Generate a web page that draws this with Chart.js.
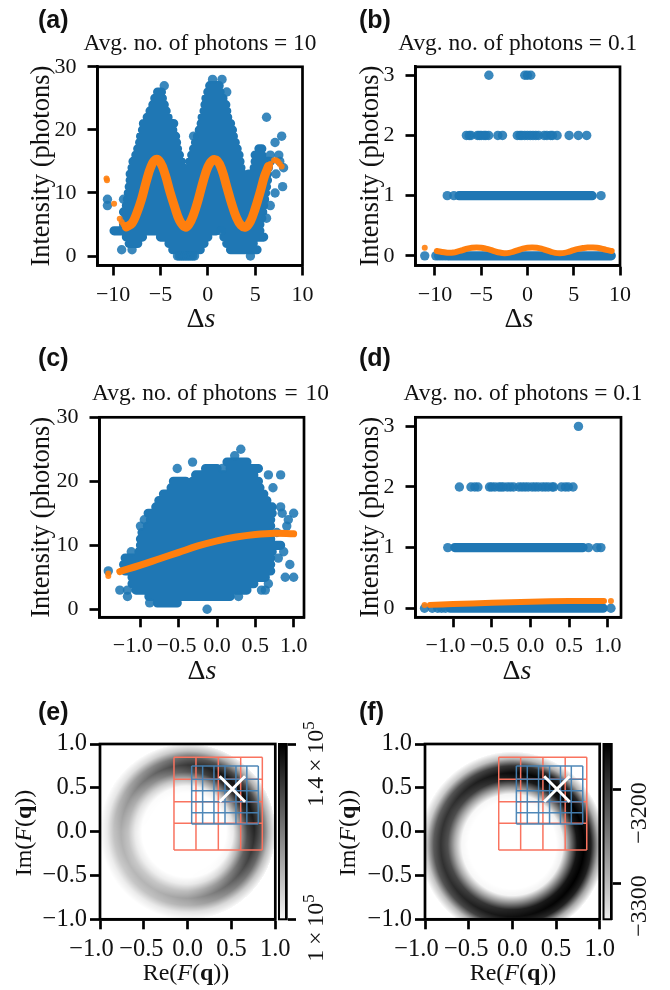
<!DOCTYPE html>
<html>
<head>
<meta charset="utf-8">
<style>
  html, body { margin: 0; padding: 0; background: #fff; overflow: hidden; }
  #page { position: relative; width: 670px; height: 990px; }
  canvas { position: absolute; }
</style>
<script src="https://cdn.jsdelivr.net/npm/chart.js@4"></script>
</head>
<body>
<div id="page"></div>
<script>
// --- panel (a) values, blue clouds are kept as x extents per photon level
var aLevels = [28, 27, 26, 25, 24, 23, 22, 21, 20, 19, 18, 17, 16, 15, 14, 13, 12, 11, 10, 9, 8, 7, 6, 5, 4, 3, 2, 1, 0];
var aSpans = [
  [[0.5], [1.5]],
  [[-4.6], [0.2, 1.2]],
  [[-5.3, -4.9], [0, 1.3], [2]],
  [[-5.6, -4.8], [-0.2, 1.6]],
  [[-5.8, -4.6], [-0.3, 1.9]],
  [[-6.1, -4.4], [-0.4, 2]],
  [[-6.4, -4.2], [-0.6, 2.1], [6.2]],
  [[-6.8, -3.6], [-0.7, 2.4]],
  [[-6.9, -3.7], [-0.9, 2.6]],
  [[-7.1, -3.4], [-1.5], [-1.1, 2.7], [7.8]],
  [[-7.2, -3.3], [-1.3, 2.9], [7.1]],
  [[-7.4, -3.2], [-1.5, 3.1], [5.4, 5.7]],
  [[-7.6, -3], [-1.7, 3.3], [5, 5.7], [6.6], [7.5]],
  [[-7.9, -2.8], [-1.9, 3.4], [5, 6.6], [7.6]],
  [[-8, -2.6], [-2, 3.5], [4.9, 6.4], [8]],
  [[-8.2, 3.7], [4.3, 6.3], [7.2]],
  [[-8.2, 6.3]],
  [[-8.3, 6.2], [7.9]],
  [[-8.4, 6.1], [7.1]],
  [[-8.9], [-8.5, 6], [-10.6]],
  [[-8.6, 5.9], [-10.6], [6.6]],
  [[-8.9, 5.8]],
  [[-8.7, 5.7], [6.2]],
  [[-8.9, 5.5]],
  [[-9.9, -9], [-8.3, 0.9], [1.4], [1.8, 5.5]],
  [[-8.6, -6.9], [-5, 0], [1.7, 5.9]],
  [[-8.3, -7.4], [-4.1, -0.4], [2, 4.8]],
  [[-9.1], [-8], [-3.7, -0.8], [2.4, 5.2]],
  [[-3.2], [-3], [-2.8], [-2.6], [-2.4], [-2.2], [-2], [-1.8], [-1.6], [-1.4], [4.5]]
];
var aOrangeX = [-8.6, -8, -7.5, -7, -6.5, -6, -5.5, -5, -4.5, -4, -3.5, -3, -2.4, -2, -1.5, -1, -0.5, 0, 0.5, 1, 1.5, 2, 2.5, 3, 3.5, 4, 4.5, 5, 5.5, 6, 6.4];
var aOrangeY = [4.6, 5.2, 6.8, 9, 11.8, 14.2, 15.3, 14.8, 12.9, 10.2, 7.8, 5.7, 4.6, 5, 6.6, 9, 11.8, 14.1, 15.2, 15.1, 13.6, 11, 8.4, 6.2, 4.9, 4.6, 5.5, 7.5, 10, 12.7, 14.2];
var aOrangeDotsX = [-10.7, -10.65, -9.9, -9.3, -9.1, -8.9, 6.6, 7, 7.2, 7.4, 7.6, 7.8];
var aOrangeDotsY = [12.3, 12, 8.3, 5.9, 5.4, 5, 14.6, 15.2, 15.2, 15, 14.6, 14.2];
var aXTicks = [-10, -5, 0, 5, 10];
var aXLabels = ['\u221210', '\u22125', '0', '5', '10'];
var aYTicks = [0, 10, 20, 30];

// --- panel (b) values
var bLevels = [3, 2, 1, 0];
var bSpans = [
  [[-4.17], [-0.29], [0], [0.36]],
  [[-6.6], [-6.3], [-6.1], [-5.4], [-5.2], [-5], [-4.7], [-4.5], [-4.2], [-3.2], [-2.7], [-1.1], [-0.8], [-0.6], [-0.3], [0], [0.3], [0.6], [0.9], [1.2], [1.8], [2.1], [2.5], [2.7], [3.2], [4.5], [5.5], [6.4]],
  [[-8.67], [-7.95], [-7.4, 7], [7.95]],
  [[-11.1], [-9.9], [-9.6], [-9.3], [-9], [-8.7], [-8.5, 9.06]]
];
var bOrangeX = [-9.8, -9, -8.5, -8, -7.5, -7, -6.5, -6, -5.5, -5, -4.5, -4, -3.5, -3, -2.5, -2, -1.5, -1, -0.5, 0, 0.5, 1, 1.5, 2, 2.5, 3, 3.5, 4, 4.5, 5, 5.5, 6, 6.5, 7, 7.5, 8, 8.5, 9.1];
var bOrangeY = [0.08, 0.06, 0.05, 0.055, 0.075, 0.095, 0.12, 0.135, 0.14, 0.135, 0.12, 0.1, 0.075, 0.055, 0.045, 0.05, 0.07, 0.095, 0.12, 0.135, 0.14, 0.135, 0.12, 0.095, 0.07, 0.05, 0.045, 0.05, 0.07, 0.095, 0.115, 0.13, 0.14, 0.14, 0.135, 0.12, 0.1, 0.08];
var bOrangeDotsX = [-11.1];
var bOrangeDotsY = [0.135];
var bYTicks = [0, 1, 2, 3];

// --- panel (c) values
var cLevels = [25, 24, 23, 22, 21, 20, 19, 18, 17, 16, 15, 14, 13, 12, 11, 10, 9, 8, 7, 6, 5, 4, 3, 2, 1, 0];
var cSpans = [
  [[0.31]],
  [[0.23]],
  [[-0.32], [0.13, 0.39]],
  [[-0.52], [-0.15, 0], [0.07], [0.17, 0.54]],
  [[-0.28, 0.48], [0.67], [0.83]],
  [[-0.57, -0.41], [-0.32, 0.54]],
  [[-0.6, 0.56], [0.73]],
  [[-0.7, 0.61]],
  [[-0.76, 0.65]],
  [[-0.8, 0.72], [0.83]],
  [[-0.9, 0.72], [0.85], [1]],
  [[-0.95], [-0.87, 0.7], [0.93]],
  [[-1], [-0.91, 0.7], [0.91]],
  [[-0.98, 0.67], [0.78]],
  [[-1, 0.7]],
  [[-1, 0.7], [0.72, 0.83]],
  [[-1.12], [-1.02, 0.72], [0.87]],
  [[-1.2, 0.7], [0.8]],
  [[-1.22, 0.7], [0.95]],
  [[-1.42], [-1.2, 0.7]],
  [[-1.11, 0.63], [0.89], [1]],
  [[-1.11, 0.48], [0.67]],
  [[-1.27], [-1.17], [-1.06, 0.39], [0.58], [0.63]],
  [[-1.17], [-0.89, 0.17], [0.28]],
  [[-0.88], [-0.78, -0.52]],
  [[-0.13]]
];
var cOrangeX = [-1.27, -1, -0.75, -0.5, -0.25, 0, 0.25, 0.5, 0.75, 1];
var cOrangeY = [5.9, 6.9, 7.9, 8.9, 9.9, 10.7, 11.3, 11.7, 11.9, 11.8];
var cOrangeDotsX = [-1.42, -1.42];
var cOrangeDotsY = [5.6, 5.2];
var cXTicks = [-1, -0.5, 0, 0.5, 1];
// trailing spaces nudge the negative labels left, as in the picture
var cXLabels = ['\u22121.0\u2002\u2009', '\u22120.5\u2009', '0.0', '0.5', '1.0'];

// --- panel (d) values
var dLevels = [3, 2, 1, 0];
var dSpans = [
  [[0.62]],
  [[-0.92], [-0.77], [-0.72], [-0.68], [-0.53], [-0.5], [-0.46], [-0.41], [-0.38], [-0.35], [-0.3], [-0.26], [-0.22], [-0.15], [-0.11], [-0.07], [-0.03], [0.02], [0.06], [0.1], [0.15], [0.19], [0.23], [0.28], [0.3], [0.4], [0.45], [0.49], [0.55]],
  [[-1.07], [-0.98, 0.68], [0.75], [0.86], [0.91]],
  [[-1.37], [-1.27], [-1.2], [-1.15], [-1.1], [-1.04, 0.94], [1.04]]
];
var dOrangeX = [-1.3, -1, -0.5, 0, 0.5, 0.95];
var dOrangeY = [0.055, 0.069, 0.089, 0.107, 0.117, 0.12];
var dOrangeDotsX = [-1.37, 1.04];
var dOrangeDotsY = [0.055, 0.12];

var ringAngles = [0, 30, 60, 90, 120, 150, 180, 210, 240, 270, 300, 330];
var eRadii = [0.44, 0.52, 0.6, 0.68, 0.76, 0.84, 0.92, 1.0];
var eDarkness = [
  [0, 8, 38, 72, 85, 66, 30, 5],
  [0, 12, 48, 85, 95, 72, 30, 4],
  [0, 8, 42, 82, 92, 70, 30, 4],
  [0, 4, 30, 65, 78, 62, 25, 3],
  [0, 2, 20, 46, 60, 46, 16, 1],
  [0, 1, 12, 32, 42, 32, 10, 1],
  [0, 0, 8, 24, 32, 24, 8, 0],
  [0, 0, 7, 21, 28, 21, 7, 0],
  [0, 0, 7, 22, 30, 24, 8, 0],
  [0, 0, 8, 26, 38, 30, 10, 1],
  [0, 1, 14, 40, 55, 44, 16, 2],
  [0, 4, 26, 58, 72, 58, 24, 3]
];
var fRadii = [0.5, 0.58, 0.66, 0.74, 0.82, 0.9, 0.98, 1.06];
var fDarkness = [
  [0, 6, 50, 92, 100, 88, 35, 2],
  [0, 6, 50, 92, 100, 85, 32, 2],
  [0, 6, 50, 92, 100, 85, 30, 2],
  [0, 5, 45, 88, 96, 80, 28, 2],
  [0, 3, 38, 78, 88, 72, 24, 1],
  [0, 3, 34, 70, 80, 64, 20, 1],
  [0, 3, 32, 68, 80, 64, 22, 1],
  [0, 3, 34, 72, 82, 68, 24, 1],
  [0, 3, 38, 78, 88, 74, 28, 2],
  [0, 4, 44, 86, 94, 80, 30, 2],
  [0, 5, 48, 90, 98, 86, 32, 2],
  [0, 6, 50, 92, 100, 88, 35, 2]
];
var ringTicks = [-1, -0.5, 0, 0.5, 1];
var ringXLabels = ['\u22121.0\u2002\u2009', '\u22120.5\u2009', '0.0', '0.5', '1.0'];
var ringYLabels = ['\u22121.0', '\u22120.5', '0.0', '0.5', '1.0'];
var redGridX = [-0.156, 0.095, 0.35, 0.605, 0.852];
var redGridY = [0.848, 0.597, 0.342, 0.095, -0.21];
var blueGridX = [0.046, 0.171, 0.3, 0.426, 0.551, 0.675, 0.806];
var blueGridY = [0.75, 0.597, 0.468, 0.342, 0.217, 0.087];
var markerX = [0.51];
var markerY = [0.487];
var eColorTicks = [100000, 140000];
var fColorTicks = [-3300, -3200];

var SERIF = '"Liberation Serif", "Times New Roman", serif';
var SANS = '"Liberation Sans", Arial, sans-serif';
var BLUE = '#1f77b4';
var ORANGE = '#ff7f0e';

function pairs(xs, ys) {
  return xs.map(function(x, i) { return { x: x, y: ys[i] }; });
}

// split the per-level extents into joined runs and lone points
function spanPoints(levels, spans) {
  var runs = [];
  var dots = [];
  levels.forEach(function(level, i) {
    spans[i].forEach(function(span) {
      if (span.length === 1) {
        dots.push({ x: span[0], y: level });
      } else {
        runs.push({ x: span[0], y: level }, { x: span[1], y: level }, { x: NaN, y: NaN });
      }
    });
  });
  return { runs: runs, dots: dots };
}

function gridLines(xs, ys) {
  var pts = [];
  xs.forEach(function(x) {
    pts.push({ x: x, y: ys[0] }, { x: x, y: ys[ys.length - 1] }, { x: NaN, y: NaN });
  });
  ys.forEach(function(y) {
    pts.push({ x: xs[0], y: y }, { x: xs[xs.length - 1], y: y }, { x: NaN, y: NaN });
  });
  return pts;
}

// black box around the plot area
function framePlugin(width) {
  return {
    id: 'frame',
    afterDatasetsDraw: function(chart) {
      var a = chart.chartArea;
      var ctx = chart.ctx;
      ctx.save();
      ctx.strokeStyle = '#000';
      ctx.lineWidth = width;
      ctx.strokeRect(a.left, a.top, a.right - a.left, a.bottom - a.top);
      ctx.restore();
    }
  };
}

// text with mixed fonts, items are in page coordinates
function textPlugin(items, originX, originY) {
  return {
    id: 'panelText',
    afterDraw: function(chart) {
      var ctx = chart.ctx;
      items.forEach(function(item) {
        var total = 0;
        item.runs.forEach(function(run) {
          ctx.font = run.font;
          total += ctx.measureText(run.text).width;
        });
        ctx.save();
        ctx.translate(item.x - originX, item.y - originY);
        if (item.rotate) { ctx.rotate(-Math.PI / 2); }
        ctx.fillStyle = '#111';
        ctx.textBaseline = 'alphabetic';
        var pos = item.left ? 0 : -total / 2;
        item.runs.forEach(function(run) {
          ctx.font = run.font;
          ctx.fillText(run.text, pos, run.rise ? -run.rise : 0);
          pos += ctx.measureText(run.text).width;
        });
        ctx.restore();
      });
    }
  };
}

function plain(text, size) {
  return [{ text: text, font: size + 'px ' + SERIF }];
}

function letter(text, x, y) {
  return { left: true, x: x, y: y, runs: [{ text: text, font: 'bold 25px ' + SANS }] };
}

function deltaS(x, y) {
  return { x: x, y: y, runs: [
    { text: '\u0394', font: '28px ' + SERIF },
    { text: 's', font: 'italic 28px ' + SERIF }
  ] };
}

function fOfQ(prefix, x, y, rotate) {
  return { x: x, y: y, rotate: rotate, runs: [
    { text: prefix + '(', font: '24px ' + SERIF },
    { text: 'F', font: 'italic 24px ' + SERIF },
    { text: '(', font: '24px ' + SERIF },
    { text: 'q', font: 'bold 24px ' + SERIF },
    { text: '))', font: '24px ' + SERIF }
  ] };
}

function makeCanvas(box) {
  var canvas = document.createElement('canvas');
  canvas.width = box.w;
  canvas.height = box.h;
  canvas.style.left = box.x + 'px';
  canvas.style.top = box.y + 'px';
  canvas.style.width = box.w + 'px';
  canvas.style.height = box.h + 'px';
  document.getElementById('page').appendChild(canvas);
  return canvas.getContext('2d');
}

function fixedTicks(values, labels, size, padding) {
  return {
    afterBuildTicks: function(scale) {
      scale.ticks = values.map(function(v) { return { value: v }; });
    },
    ticks: {
      autoSkip: false,
      minRotation: 0,
      maxRotation: 0,
      padding: padding,
      color: '#111',
      font: { family: SERIF, size: size },
      callback: function(value, index) { return labels[index]; }
    },
    grid: { drawOnChartArea: false, drawTicks: true, tickLength: 10, tickWidth: 2.7, tickColor: '#000' },
    border: { display: true, color: '#000', width: 2.7 }
  };
}

// build one panel with a fixed plot rectangle
function panelChart(p) {
  var box = p.canvas;
  var xScale = fixedTicks(p.xTicks, p.xLabels, p.tickSize, p.xPad);
  xScale.type = 'linear';
  xScale.min = p.xMin;
  xScale.max = p.xMax;
  xScale.afterFit = function(scale) { scale.height = box.y + box.h - p.plot.bottom; };
  var yScale = fixedTicks(p.yTicks, p.yLabels, p.tickSize, p.yPad);
  yScale.type = 'linear';
  yScale.min = p.yMin;
  yScale.max = p.yMax;
  yScale.afterFit = function(scale) { scale.width = p.plot.left - box.x; };
  if (p.yTitle) {
    yScale.title = {
      display: true,
      text: p.yTitle,
      color: '#111',
      font: { family: SERIF, size: 26.5 },
      padding: { top: p.yTitleTop, bottom: 0 }
    };
  }
  return new Chart(makeCanvas(box), {
    type: 'scatter',
    data: { datasets: p.datasets },
    options: {
      responsive: false,
      animation: false,
      events: [],
      layout: {
        autoPadding: false,
        padding: {
          left: 0,
          bottom: 0,
          top: p.plot.top - box.y,
          right: box.x + box.w - p.plot.right
        }
      },
      plugins: { legend: { display: false }, tooltip: { enabled: false } },
      scales: { x: xScale, y: yScale }
    },
    plugins: (p.plugins || []).concat([framePlugin(2.7), textPlugin(p.text, box.x, box.y)])
  });
}

function scatterSets(levels, spans, lineX, lineY, dotX, dotY, lineWidth) {
  var split = spanPoints(levels, spans);
  return [
    { label: 'Photon counts', data: split.runs, showLine: true, spanGaps: false, borderColor: BLUE, backgroundColor: BLUE,
      borderWidth: 9.2, borderCapStyle: 'round', pointRadius: 0, order: 4 },
    { label: 'Photon counts (single)', data: split.dots, backgroundColor: 'rgba(31,119,180,0.88)', pointRadius: 4.7,
      pointBorderWidth: 0, order: 3 },
    { label: 'Expected intensity', data: pairs(lineX, lineY), showLine: true, borderColor: ORANGE, backgroundColor: ORANGE,
      borderWidth: lineWidth, borderCapStyle: 'round', tension: 0.4, pointRadius: 0, order: 2 },
    { label: 'Expected intensity (single)', data: pairs(dotX, dotY), backgroundColor: 'rgba(255,127,14,0.9)', pointRadius: 3,
      pointBorderWidth: 0, order: 1 }
  ];
}

// look the ring table up for every pixel of the plot, linear in angle and radius
function ringPlugin(radii, table, cx, cy) {
  return {
    id: 'ringImage',
    beforeDatasetsDraw: function(chart) {
      var a = chart.chartArea;
      var w = Math.round(a.right - a.left);
      var h = Math.round(a.bottom - a.top);
      var off = document.createElement('canvas');
      off.width = w;
      off.height = h;
      var octx = off.getContext('2d');
      var img = octx.createImageData(w, h);
      var step = ringAngles[1] - ringAngles[0];
      var rStep = radii[1] - radii[0];
      for (var j = 0; j < h; j++) {
        var vy = chart.scales.y.getValueForPixel(a.top + j + 0.5) - cy;
        for (var i = 0; i < w; i++) {
          var vx = chart.scales.x.getValueForPixel(a.left + i + 0.5) - cx;
          var r = Math.sqrt(vx * vx + vy * vy);
          var ang = Math.atan2(vy, vx) * 180 / Math.PI;
          if (ang < 0) { ang += 360; }
          var dark = 0;
          var rPos = (r - radii[0]) / rStep;
          if (rPos >= 0 && rPos < radii.length - 1) {
            var r0 = Math.floor(rPos);
            var rt = rPos - r0;
            var a0 = Math.floor(ang / step) % ringAngles.length;
            var a1 = (a0 + 1) % ringAngles.length;
            var at = ang / step - Math.floor(ang / step);
            var v0 = table[a0][r0] * (1 - rt) + table[a0][r0 + 1] * rt;
            var v1 = table[a1][r0] * (1 - rt) + table[a1][r0 + 1] * rt;
            dark = v0 * (1 - at) + v1 * at;
          }
          var grey = Math.round(255 * (1 - dark / 100));
          var k = (j * w + i) * 4;
          img.data[k] = grey;
          img.data[k + 1] = grey;
          img.data[k + 2] = grey;
          img.data[k + 3] = 255;
        }
      }
      octx.putImageData(img, 0, 0);
      chart.ctx.drawImage(off, a.left, a.top, a.right - a.left, a.bottom - a.top);
    }
  };
}

function ringSets() {
  return [
    { label: 'Coarse grid', data: gridLines(redGridX, redGridY), showLine: true, spanGaps: false, borderColor: '#f9735f',
      borderWidth: 1.5, pointRadius: 0, order: 3 },
    { label: 'Fine grid', data: gridLines(blueGridX, blueGridY), showLine: true, spanGaps: false, borderColor: 'rgba(70,130,180,0.95)',
      borderWidth: 1.5, pointRadius: 0, order: 2 },
    { label: 'Estimate', data: pairs(markerX, markerY), pointStyle: 'crossRot', pointRadius: 18, pointBorderWidth: 3,
      pointBorderColor: '#fff', order: 1 }
  ];
}

// colorbar as a single floating bar on its own value axis
function colorbarChart(box, plot, min, max, ticks, light, labels) {
  var yScale = fixedTicks(ticks, ticks.map(function() { return ''; }), 24, 0);
  yScale.type = 'linear';
  yScale.position = 'right';
  yScale.min = min;
  yScale.max = max;
  yScale.ticks.display = false;
  yScale.afterFit = function(scale) { scale.width = box.x + box.w - plot.right; };
  return new Chart(makeCanvas(box), {
    type: 'bar',
    data: {
      labels: ['colorbar'],
      datasets: [{
        data: [[min, max]],
        barPercentage: 1,
        categoryPercentage: 1,
        backgroundColor: function(context) {
          var a = context.chart.chartArea;
          if (!a) { return '#888'; }
          var g = context.chart.ctx.createLinearGradient(0, a.bottom, 0, a.top);
          g.addColorStop(0, light);
          g.addColorStop(1, '#000');
          return g;
        }
      }]
    },
    options: {
      responsive: false,
      animation: false,
      events: [],
      layout: {
        autoPadding: false,
        padding: {
          left: plot.left - box.x,
          right: 0,
          top: plot.top - box.y,
          bottom: box.y + box.h - plot.bottom
        }
      },
      plugins: { legend: { display: false }, tooltip: { enabled: false } },
      scales: { x: { display: false }, y: yScale }
    },
    plugins: [framePlugin(2), textPlugin(labels, box.x, box.y)]
  });
}

panelChart({
  canvas: { x: 0, y: 0, w: 335, h: 335 },
  plot: { left: 97.5, right: 302.5, top: 66.8, bottom: 265.5 },
  xMin: -11.65, xMax: 10, yMin: -1.5, yMax: 30,
  xTicks: aXTicks, xLabels: aXLabels, yTicks: aYTicks, yLabels: aYTicks.map(String),
  tickSize: 22, xPad: 7, yPad: 11,
  yTitle: 'Intensity (photons)', yTitleTop: 26,
  datasets: scatterSets(aLevels, aSpans, aOrangeX, aOrangeY, aOrangeDotsX, aOrangeDotsY, 9),
  text: [
    letter('(a)', 38, 28),
    { x: 200, y: 50, runs: plain('Avg. no. of photons = 10', 23.4) },
    deltaS(201, 327)
  ]
});

panelChart({
  canvas: { x: 335, y: 0, w: 335, h: 335 },
  plot: { left: 415.5, right: 620, top: 66.8, bottom: 265.5 },
  xMin: -12.1, xMax: 10, yMin: -0.16, yMax: 3.14,
  xTicks: aXTicks, xLabels: aXLabels, yTicks: bYTicks, yLabels: bYTicks.map(String),
  tickSize: 22, xPad: 7, yPad: 11,
  yTitle: 'Intensity (photons)', yTitleTop: 20,
  datasets: scatterSets(bLevels, bSpans, bOrangeX, bOrangeY, bOrangeDotsX, bOrangeDotsY, 6),
  text: [
    letter('(b)', 359, 28),
    { x: 517.7, y: 50, runs: plain('Avg. no. of photons = 0.1', 23.4) },
    deltaS(519, 327)
  ]
});

panelChart({
  canvas: { x: 0, y: 340, w: 335, h: 345 },
  plot: { left: 99.5, right: 304, top: 417.3, bottom: 617.3 },
  xMin: -1.535, xMax: 1.135, yMin: -1.25, yMax: 30,
  xTicks: cXTicks, xLabels: cXLabels, yTicks: aYTicks, yLabels: aYTicks.map(String),
  tickSize: 22, xPad: 6, yPad: 11,
  yTitle: 'Intensity (photons)', yTitleTop: 26,
  datasets: scatterSets(cLevels, cSpans, cOrangeX, cOrangeY, cOrangeDotsX, cOrangeDotsY, 7),
  text: [
    letter('(c)', 38, 366),
    { x: 210.5, y: 400, runs: plain('Avg. no. of photons \u200a=\u200a 10', 23.4) },
    deltaS(202, 679)
  ]
});

panelChart({
  canvas: { x: 335, y: 340, w: 335, h: 345 },
  plot: { left: 415.5, right: 621, top: 417.3, bottom: 617.3 },
  xMin: -1.487, xMax: 1.17, yMin: -0.15, yMax: 3.15,
  xTicks: cXTicks, xLabels: cXLabels, yTicks: bYTicks, yLabels: bYTicks.map(String),
  tickSize: 22, xPad: 6, yPad: 11,
  yTitle: 'Intensity (photons)', yTitleTop: 20,
  datasets: scatterSets(dLevels, dSpans, dOrangeX, dOrangeY, dOrangeDotsX, dOrangeDotsY, 6),
  text: [
    letter('(d)', 359, 366),
    { x: 523, y: 400, runs: plain('Avg. no. of photons = 0.1', 23.4) },
    deltaS(517, 679)
  ]
});

panelChart({
  canvas: { x: 0, y: 690, w: 335, h: 300 },
  plot: { left: 100, right: 275.3, top: 744, bottom: 919.3 },
  xMin: -1, xMax: 1, yMin: -1, yMax: 1,
  xTicks: ringTicks, xLabels: ringXLabels, yTicks: ringTicks, yLabels: ringYLabels,
  tickSize: 24.5, xPad: 6, yPad: 3,
  datasets: ringSets(),
  plugins: [ringPlugin(eRadii, eDarkness, 0, 0)],
  text: [
    letter('(e)', 38, 720),
    fOfQ('Re', 186, 980),
    fOfQ('Im', 31, 833, true)
  ]
});

panelChart({
  canvas: { x: 335, y: 690, w: 335, h: 300 },
  plot: { left: 425, right: 599.7, top: 744, bottom: 919.3 },
  xMin: -1, xMax: 1, yMin: -1, yMax: 1,
  xTicks: ringTicks, xLabels: ringXLabels, yTicks: ringTicks, yLabels: ringYLabels,
  tickSize: 24.5, xPad: 6, yPad: 3,
  datasets: ringSets(),
  plugins: [ringPlugin(fRadii, fDarkness, 0, -0.15)],
  text: [
    letter('(f)', 359, 720),
    fOfQ('Re', 513, 980),
    fOfQ('Im', 355, 833, true)
  ]
});

colorbarChart(
  { x: 270, y: 690, w: 65, h: 300 },
  { left: 279, right: 286, top: 744, bottom: 919.3 },
  100000, 140000, eColorTicks, '#f6f6f6',
  [
    { x: 323, y: 764, rotate: true, runs: [
      { text: '1.4\u2009\u00d7\u200910', font: '24px ' + SERIF },
      { text: '5', font: '17px ' + SERIF, rise: 9 }
    ] },
    { x: 323, y: 928, rotate: true, runs: [
      { text: '1\u2009\u00d7\u200910', font: '24px ' + SERIF },
      { text: '5', font: '17px ' + SERIF, rise: 9 }
    ] }
  ]
);

colorbarChart(
  { x: 595, y: 690, w: 75, h: 300 },
  { left: 603.5, right: 611, top: 744, bottom: 919.3 },
  -3339, -3150.6, fColorTicks, '#ececec',
  [
    { x: 646, y: 813, rotate: true, runs: plain('\u22123200', 24) },
    { x: 646, y: 906, rotate: true, runs: plain('\u22123300', 24) }
  ]
);
</script>
</body>
</html>
